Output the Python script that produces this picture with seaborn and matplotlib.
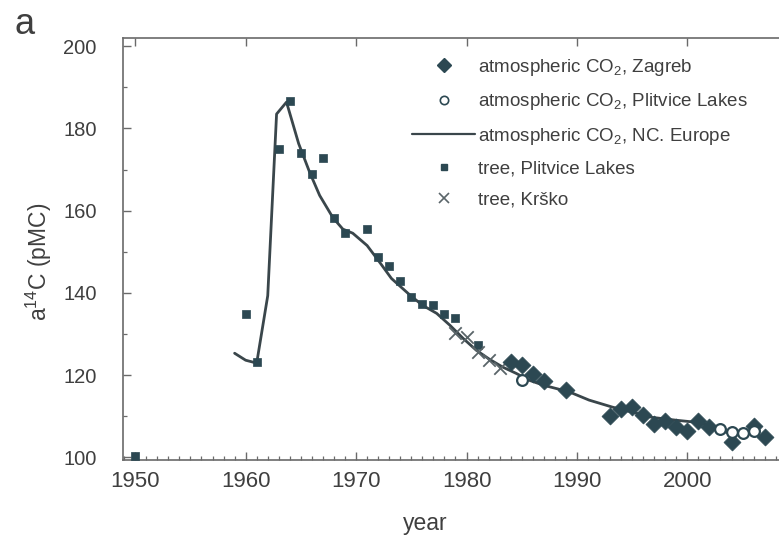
import matplotlib
matplotlib.use("Agg")
import matplotlib.pyplot as plt
from matplotlib.ticker import MultipleLocator
from matplotlib.lines import Line2D
import seaborn as sns
import pandas as pd

# ---- data ----
zagreb_year = [1984, 1985, 1986, 1987, 1989, 1993, 1994, 1995, 1996, 1997, 1998, 1999, 2000, 2001, 2002, 2004, 2006, 2007]
zagreb_val = [123.2, 122.4, 120.3, 118.6, 116.3, 110.0, 111.8, 112.3, 110.3, 108.2, 108.9, 107.3, 106.3, 108.8, 107.3, 103.6, 107.5, 104.8]

plit_atm_year = [1985, 2003, 2004, 2005, 2006]
plit_atm_val = [118.9, 106.8, 106.2, 105.9, 106.5]

nce_year = [1959, 1960, 1961, 1962, 1962.8, 1963.7, 1964.8, 1965.8, 1966.7, 1967.9, 1968.8, 1969.7,
            1971, 1972.2, 1973.2, 1974.9, 1976, 1977.3, 1978.5, 1979.7, 1980.9, 1982.1, 1983.3,
            1984.5, 1985.7, 1987, 1989.3, 1991.1, 1993.2, 1995.4, 1996.8, 1999, 2000.8, 2002, 2003.5, 2005]
nce_val = [125.3, 123.6, 122.9, 139.3, 183.5, 186.4, 176.3, 169.3, 163.7, 158.3, 155.5, 154.5,
           151.5, 147.2, 143.5, 139.4, 137.0, 135.0, 132.1, 128.9, 126.0, 123.8, 121.9,
           120.4, 118.7, 117.5, 115.9, 113.9, 112.2, 110.7, 109.7, 109.0, 108.5, 107.8, 106.1, 105.4]

tree_plit_year = [1950, 1960, 1961, 1963, 1964, 1965, 1966, 1967, 1968, 1969, 1971, 1972, 1973,
                  1974, 1975, 1976, 1977, 1978, 1979, 1981]
tree_plit_val = [100.3, 134.8, 123.1, 175.0, 186.6, 173.9, 169.0, 172.9, 158.3, 154.6, 155.5, 148.8, 146.5,
                 142.8, 139.0, 137.3, 137.1, 134.8, 133.9, 127.3]

krsko_year = [1979, 1980, 1981, 1982, 1983]
krsko_val = [130.2, 129.2, 125.5, 123.6, 121.8]

labels = ["atmospheric CO$_2$, Zagreb",
          "atmospheric CO$_2$, Plitvice Lakes",
          "atmospheric CO$_2$, NC. Europe",
          "tree, Plitvice Lakes",
          "tree, Krško"]

# ---- style ----
sns.set_style("ticks")
plt.rcParams['font.family'] = ['Liberation Sans', 'DejaVu Sans']
plt.rcParams['mathtext.fontset'] = 'custom'
plt.rcParams['mathtext.rm'] = 'Liberation Sans'
plt.rcParams['mathtext.it'] = 'Liberation Sans:italic'
plt.rcParams['mathtext.bf'] = 'Liberation Sans:bold'

mk = "#2c4852"
ln = "#3a464b"
txt = "#3f3f3f"
spine = "#6a6a6a"

fig = plt.figure(figsize=(7.79, 5.35), dpi=100)
ax = fig.add_axes([0.158, 0.140, 0.842, 0.789])

df_line = pd.DataFrame({"year": nce_year, "val": nce_val})
sns.lineplot(data=df_line, x="year", y="val", ax=ax, color=ln, linewidth=2.0, sort=False, zorder=2)

df_tree = pd.DataFrame({"year": tree_plit_year, "val": tree_plit_val})
sns.scatterplot(data=df_tree, x="year", y="val", ax=ax, marker="s", s=38, color=mk,
                edgecolor=mk, linewidth=0.5, zorder=3)

df_k = pd.DataFrame({"year": krsko_year, "val": krsko_val})
sns.scatterplot(data=df_k, x="year", y="val", ax=ax, marker="x", s=80, color="#5a6569",
                linewidth=1.3, zorder=3)

df_z = pd.DataFrame({"year": zagreb_year, "val": zagreb_val})
sns.scatterplot(data=df_z, x="year", y="val", ax=ax, marker="D", s=75, color=mk,
                edgecolor=mk, linewidth=0.5, zorder=4)

df_p = pd.DataFrame({"year": plit_atm_year, "val": plit_atm_val})
sns.scatterplot(data=df_p, x="year", y="val", ax=ax, marker="o", s=60, facecolor="white",
                edgecolor=mk, linewidth=1.6, zorder=5)

ax.set_xlim(1948.9, 2008.3)
ax.set_ylim(99.3, 202)

ax.xaxis.set_major_locator(MultipleLocator(10))
ax.xaxis.set_minor_locator(MultipleLocator(1))
ax.yaxis.set_major_locator(MultipleLocator(20))
ax.yaxis.set_minor_locator(MultipleLocator(10))

ax.tick_params(axis='both', which='major', direction='in', length=6, width=1.0, color=spine,
               labelcolor=txt)
ax.tick_params(axis='both', which='minor', direction='in', length=3, width=0.9, color=spine)
ax.tick_params(axis='x', which='major', top=True, labelsize=16, pad=8)
ax.tick_params(axis='x', which='minor', top=False)
ax.tick_params(axis='y', which='major', labelsize=14.5, pad=19)

for s in ["left", "bottom", "top"]:
    ax.spines[s].set_color(spine)
    ax.spines[s].set_linewidth(1.2)
ax.spines["right"].set_visible(False)

ax.set_xlabel("year", fontsize=16.5, color=txt)
ax.set_ylabel("a$^{14}$C (pMC)", fontsize=16.5, color=txt)
ax.xaxis.set_label_coords(0.46, -0.122)
ax.yaxis.set_label_coords(-0.106, 0.47)

fig.text(0.018, 0.955, "a", fontsize=26, color=txt, ha="left", va="center")

handles = [
    Line2D([], [], marker="D", linestyle="none", color=mk, markersize=7),
    Line2D([], [], marker="o", linestyle="none", markerfacecolor="white", markeredgecolor=mk,
           markeredgewidth=1.2, markersize=6),
    Line2D([], [], color=ln, linewidth=1.6),
    Line2D([], [], marker="s", linestyle="none", color=mk, markersize=5),
    Line2D([], [], marker="x", linestyle="none", color="#5a6569", markersize=7, markeredgewidth=1.2),
]
leg = ax.legend(handles, labels, loc="upper left", bbox_to_anchor=(0.44, 0.955), frameon=False,
                fontsize=13.5, handlelength=3.4, handletextpad=0.12, labelspacing=0.72,
                borderpad=0, borderaxespad=0)
for t in leg.get_texts():
    t.set_color(txt)

fig.savefig("out.png", dpi=100)
